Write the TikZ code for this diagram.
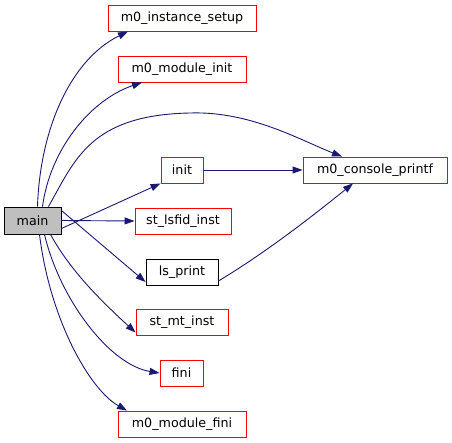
\documentclass[tikz,border=0pt]{standalone}
\usepackage{fontspec}
\setmainfont{DejaVu Sans}
\usetikzlibrary{arrows.meta}
\definecolor{edgeblue}{HTML}{191970}
\definecolor{mainfill}{HTML}{BFBFBF}
\begin{document}
\begin{tikzpicture}[x=1pt,y=-1pt,
  box/.style={rectangle, minimum height=26pt, inner sep=0pt, line width=0.9pt,
    font=\fontsize{12.7}{14}\selectfont},
  fn/.style={box, draw=red, fill=white},
  mainbox/.style={box, draw=black, fill=mainfill},
  call/.style={draw=edgeblue, line width=0.9pt, -{Triangle[length=10pt,width=7pt]}}
]
\useasboundingbox (0,0) rectangle (452,443);
\node[mainbox, minimum width=57pt, minimum height=27pt] (main) at (32.5,220.5) {main};
\node[fn, minimum width=148pt] (msetup) at (182,18) {m0\_instance\_setup};
\node[fn, minimum width=128pt] (minit) at (182,69) {m0\_module\_init};
\node[fn, minimum width=42pt] (init) at (182,170) {init};
\node[fn, minimum width=144pt] (cons) at (375,170) {m0\_console\_printf};
\node[fn, minimum width=96pt] (lsfid) at (183,221) {st\_lsfid\_inst};
\node[box, draw=black, fill=white, minimum width=72pt] (lsp) at (182,272) {ls\_print};
\node[fn, minimum width=92pt] (mt) at (182,322.5) {st\_mt\_inst};
\node[fn, minimum width=43pt] (fini) at (181.5,373) {fini};
\node[fn, minimum width=128pt] (mfini) at (182,424) {m0\_module\_fini};

\draw[call] ([xshift=5pt]main.north) .. controls (40,130) and (70,60) .. ([xshift=-54pt]msetup.south);
\draw[call] ([xshift=10pt]main.north) .. controls (50,150) and (90,100) .. ([xshift=-40pt]minit.south);
\draw[call] ([xshift=16pt]main.north) .. controls (75,160) and (90,115) .. (190,113) .. controls (250,111) and (300,140) .. ([xshift=-33pt]cons.north);
\draw[call] ([yshift=-8pt]main.east) -- (init.south west);
\draw[call] (main.east) -- (lsfid.west);
\draw[call] ([yshift=10pt]main.east) -- ([yshift=-10pt]lsp.west);
\draw[call] ([xshift=18pt]main.south) .. controls (70,270) and (100,300) .. ([yshift=-10pt]mt.west);
\draw[call] ([xshift=12pt]main.south) .. controls (60,300) and (110,365) .. (fini.west);
\draw[call] ([xshift=7pt]main.south) .. controls (50,320) and (90,390) .. ([xshift=-55pt]mfini.north);
\draw[call] (init.east) -- (cons.west);
\draw[call] ([yshift=-9pt]lsp.east) .. controls (270,250) and (320,210) .. ([xshift=-22pt]cons.south);
\end{tikzpicture}
\end{document}
